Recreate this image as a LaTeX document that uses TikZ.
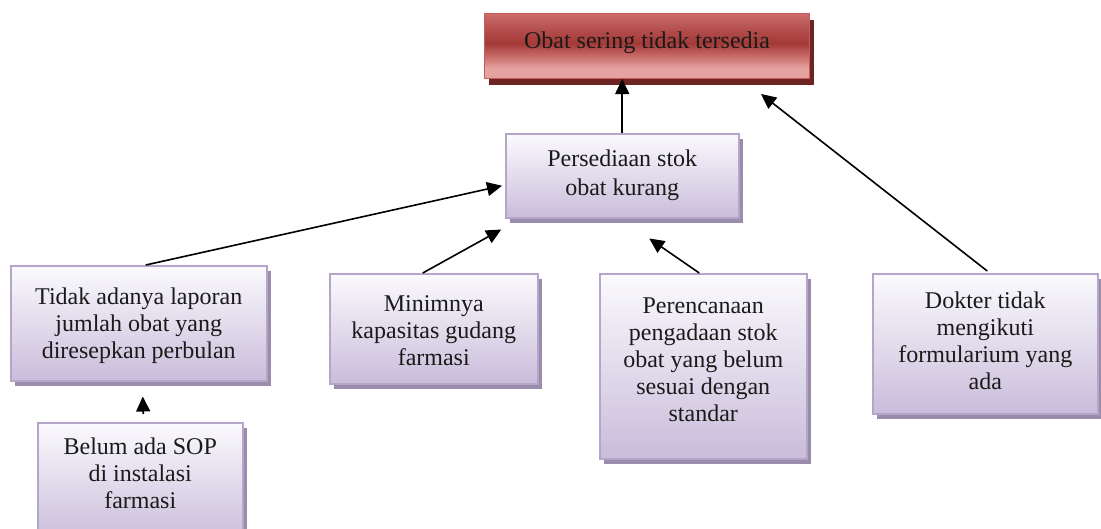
\documentclass[tikz,border=0pt]{standalone}
\usepackage{fontspec}
\setmainfont{Liberation Serif}
\usetikzlibrary{arrows.meta,shadows,calc}
\definecolor{lavb}{HTML}{B4A5C9}
\definecolor{lavtop}{HTML}{FBFAFD}
\definecolor{lavbot}{HTML}{C9BDDB}
\definecolor{shad}{HTML}{9A8CAB}
\definecolor{txt}{HTML}{1A1A1A}
\definecolor{rtop}{HTML}{CB6E6D}
\definecolor{rhi}{HTML}{B24C4A}
\definecolor{rmid}{HTML}{A33A38}
\definecolor{rlow}{HTML}{C66765}
\definecolor{rbot}{HTML}{E4A2A1}
\definecolor{rborder}{HTML}{C65C5A}
\definecolor{rshad}{HTML}{6E2422}
\pgfdeclareverticalshading{redband}{100bp}{color(0bp)=(rbot); color(25bp)=(rbot); color(33bp)=(rbot); color(43bp)=(rlow); color(52bp)=(rmid); color(62bp)=(rhi); color(75bp)=(rtop); color(100bp)=(rtop)}
\tikzset{
  lbox/.style={draw=lavb, line width=1.5pt, top color=lavtop, bottom color=lavbot,
    drop shadow={shadow xshift=4pt, shadow yshift=-5pt, fill=shad, opacity=1},
    align=center, inner sep=0pt, anchor=north west, text=txt,
    font=\fontsize{24}{27}\selectfont},
  rbox/.style={draw=rborder, line width=1pt, shading=redband,
    drop shadow={shadow xshift=4pt, shadow yshift=-6pt, fill=rshad, opacity=1},
    align=center, inner sep=0pt, anchor=north west, text=txt,
    font=\fontsize{24}{27}\selectfont},
  arr/.style={-{Triangle[length=15pt,width=14pt]}, line width=1.6pt, black}
}
\newcommand{\lift}[2]{\raisebox{#1}[\height][\depth]{\begin{tabular}{@{}c@{}}#2\end{tabular}}}
\begin{document}
\begin{tikzpicture}[x=1pt,y=-1pt]
\useasboundingbox (0,0) rectangle (1101,528);
\fill[white] (0,0) rectangle (1101,528);

\node[rbox, minimum width=325pt, minimum height=65pt] (top) at (484,13)
  {\lift{3pt}{Obat sering tidak tersedia}};
\node[lbox, minimum width=233pt, minimum height=84pt] (pers) at (505,133)
  {\lift{0pt}{Persediaan stok\\[2pt]obat kurang}};
\node[lbox, minimum width=256pt, minimum height=115pt] (tidak) at (10,265)
  {\lift{-3pt}{Tidak adanya laporan\\jumlah obat yang\\diresepkan perbulan}};
\node[lbox, minimum width=205pt, minimum height=118pt] (belum) at (37,422)
  {\lift{6pt}{Belum ada SOP\\di instalasi\\farmasi}};
\node[lbox, minimum width=208pt, minimum height=110pt] (mini) at (329,273)
  {\lift{-4pt}{Minimnya\\kapasitas gudang\\farmasi}};
\node[lbox, minimum width=207pt, minimum height=185pt] (pere) at (599,273)
  {\lift{4pt}{Perencanaan\\pengadaan stok\\obat yang belum\\sesuai dengan\\standar}};
\node[lbox, minimum width=225pt, minimum height=140pt] (dok) at (872,273)
  {\lift{0pt}{Dokter tidak\\mengikuti\\formularium yang\\ada}};

\draw[arr] (pers.north) -- (pers.north |- top.south);
\draw[arr] ([xshift=7pt]tidak.north) -- ([xshift=-3pt,yshift=-10pt]pers.west);
\draw[arr] ([xshift=-11pt]mini.north) -- ([xshift=-121pt,yshift=-11pt]pers.south);
\draw[arr] ([xshift=-4pt]pere.north) -- ([xshift=27pt,yshift=-20pt]pers.south);
\draw[arr] ([xshift=2pt,yshift=2pt]dok.north) -- ([xshift=114pt,yshift=-15pt]top.south);
\draw[arr] ([xshift=3pt,yshift=8pt]belum.north) -- ([xshift=4pt,yshift=-15pt]tidak.south);
\end{tikzpicture}
\end{document}
